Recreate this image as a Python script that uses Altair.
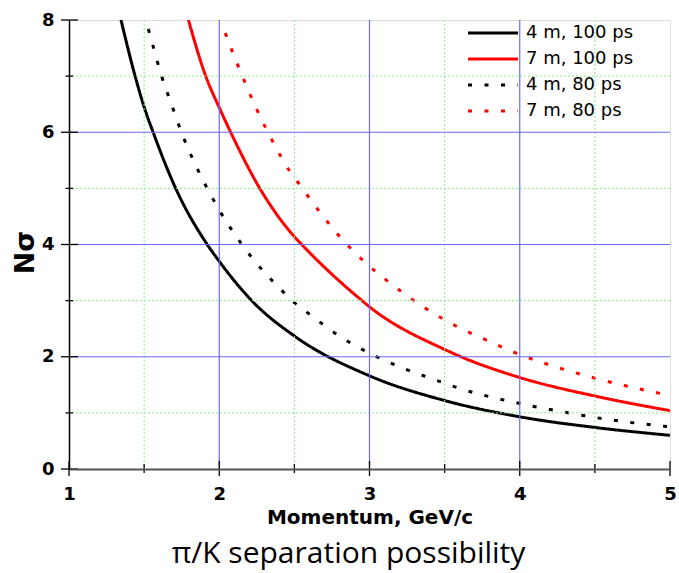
import altair as alt
import pandas as pd

# ---- data ----
series_names = ["4 m, 100 ps", "7 m, 100 ps", "4 m, 80 ps", "7 m, 80 ps"]

p_4m_100 = [1.346, 1.44, 1.5, 1.56, 1.705, 1.92, 2.0, 2.216, 2.5, 3.0, 3.5, 4.0, 4.5, 5.0]
n_4m_100 = [8.0, 7.0, 6.45, 6.0, 5.03, 4.0, 3.70, 3.0, 2.37, 1.66, 1.22, 0.93, 0.74, 0.60]

p_7m_100 = [1.795, 1.91, 2.0, 2.076, 2.27, 2.5, 2.549, 2.95, 3.0, 3.5, 3.6, 4.0, 4.5, 5.0]
n_7m_100 = [8.0, 7.0, 6.44, 6.0, 5.0, 4.14, 4.0, 3.0, 2.89, 2.13, 2.01, 1.63, 1.30, 1.04]

p_4m_80 = [1.528, 1.555, 1.614, 1.683, 1.757, 1.845, 1.95, 2.005, 2.143, 2.216, 2.398, 2.493,
           2.6, 2.804, 3.003, 3.21, 3.414, 3.607, 4.013, 4.323, 4.62, 4.934, 5.0]
n_4m_80 = [7.84, 7.58, 7.02, 6.49, 5.94, 5.40, 4.85, 4.59, 4.03, 3.77, 3.23, 2.98,
           2.76, 2.36, 2.06, 1.81, 1.61, 1.43, 1.16, 1.00, 0.87, 0.77, 0.75]

p_7m_80 = [2.04, 2.078, 2.16, 2.249, 2.351, 2.466, 2.537, 2.609, 2.686, 2.77, 2.963, 3.168,
           3.369, 3.574, 3.775, 3.98, 4.18, 4.485, 4.79, 5.0]
n_7m_80 = [7.77, 7.50, 6.96, 6.41, 5.86, 5.32, 5.06, 4.79, 4.52, 4.24, 3.70, 3.25,
           2.87, 2.55, 2.30, 2.06, 1.87, 1.63, 1.43, 1.31]

x_tick_values = [1, 2, 3, 4, 5]
y_tick_values = [0, 2, 4, 6, 8]
x_major_grid = [2, 3, 4]
y_major_grid = [2, 4, 6]
x_minor = [1.5, 2.5, 3.5, 4.5]
y_minor = [1, 3, 5, 7]

x_title = "Momentum, GeV/c"
y_title = "Nσ"
caption = "π/K separation possibility"

# ---- build table ----
rows = []
for name, ps, ns in zip(series_names,
                        [p_4m_100, p_7m_100, p_4m_80, p_7m_80],
                        [n_4m_100, n_7m_100, n_4m_80, n_7m_80]):
    for p, n in zip(ps, ns):
        rows.append({"series": name, "p": p, "n": n})
df = pd.DataFrame(rows)

W, H = 601, 449
FONT = "DejaVu Sans"

x_scale = alt.Scale(domain=[1, 5], nice=False, zero=False)
y_scale = alt.Scale(domain=[0, 8], nice=False, zero=False)

x_axis = alt.Axis(
    values=x_tick_values, format="d", ticks=False, grid=False,
    domainColor="#555555", domainWidth=2,
    labelFont=FONT, labelFontSize=18, labelFontWeight="bold", labelColor="black",
    labelPadding=16, labelFlush=False,
    title=x_title, titleFont=FONT, titleFontSize=20, titleFontWeight="bold",
    titleColor="black", titleY=54, titleBaseline="alphabetic", zindex=1)
y_axis = alt.Axis(
    values=y_tick_values, format="d", ticks=False, grid=False,
    domainColor="black", domainWidth=1.5,
    labelFont=FONT, labelFontSize=18, labelFontWeight="bold", labelColor="black",
    labelPadding=15, labelFlush=False,
    title=y_title, titleFont=FONT, titleFontSize=27, titleFontWeight="bold",
    titleColor="black", titleAngle=270, titleX=-36, titleY=232,
    titleAlign="center", titleBaseline="alphabetic", zindex=1)


def X(field="v:Q"):
    return alt.X(field, scale=x_scale, axis=x_axis)


def Y(field="v:Q"):
    return alt.Y(field, scale=y_scale, axis=y_axis)


def vrules(vals, **kw):
    return alt.Chart(pd.DataFrame({"v": vals})).mark_rule(**kw).encode(x=X())


def hrules(vals, **kw):
    return alt.Chart(pd.DataFrame({"v": vals})).mark_rule(**kw).encode(y=Y())


minor_style = dict(color="#8ceb8c", strokeWidth=1, strokeDash=[2, 2])
major_style = dict(color="#6a6aff", strokeWidth=1.2)

g1 = vrules(x_minor, **minor_style)
g2 = hrules(y_minor, **minor_style)
g3 = vrules(x_major_grid, **major_style)
g4 = hrules(y_major_grid, **major_style)

legend_cfg = alt.Legend(
    title=None, orient="none", legendX=415, legendY=4,
    symbolType="M-5,0H5", symbolSize=100, symbolStrokeWidth=3,
    labelFont=FONT, labelFontSize=18, labelColor="black", labelOffset=24,
    rowPadding=8, padding=0,
)

lines = alt.Chart(df).mark_line(strokeWidth=3, interpolate="monotone", clip=True).encode(
    x=X("p:Q"),
    y=Y("n:Q"),
    color=alt.Color("series:N", sort=series_names,
                    scale=alt.Scale(domain=series_names, range=["black", "red", "black", "red"]),
                    legend=legend_cfg),
    strokeDash=alt.StrokeDash("series:N", sort=series_names,
                              scale=alt.Scale(domain=series_names,
                                              range=[[1, 0], [1, 0], [4, 12.5], [4, 12.5]]),
                              legend=legend_cfg),
)

tick_style = dict(color="black", strokeWidth=1.3)
t1 = alt.Chart(pd.DataFrame({"v": x_tick_values})).mark_rule(**tick_style).encode(
    x=X(), y=alt.value(H - 8), y2=alt.value(H + 7))
t2 = alt.Chart(pd.DataFrame({"v": x_minor})).mark_rule(**tick_style).encode(
    x=X(), y=alt.value(H - 5), y2=alt.value(H + 4))
t3 = alt.Chart(pd.DataFrame({"v": y_tick_values})).mark_rule(**tick_style).encode(
    y=Y(), x=alt.value(-8), x2=alt.value(9))
t4 = alt.Chart(pd.DataFrame({"v": y_minor})).mark_rule(**tick_style).encode(
    y=Y(), x=alt.value(-3.5), x2=alt.value(4))

chart = alt.layer(lines, g1, g2, g3, g4, t1, t2, t3, t4).properties(
    width=W, height=H,
    title=alt.TitleParams(text=caption, orient="bottom", anchor="middle", font="Open Sans",
                          fontSize=30, fontWeight="normal", color="black", dx=-21, offset=12),
    padding={"left": 69, "top": 20, "right": 9, "bottom": 104},
    autosize=alt.AutoSizeParams(type="none"),
).configure_view(stroke="#707070", strokeWidth=1.5).configure(background="white")

chart.save("out.html", embed_options={"renderer": "svg", "actions": False})
